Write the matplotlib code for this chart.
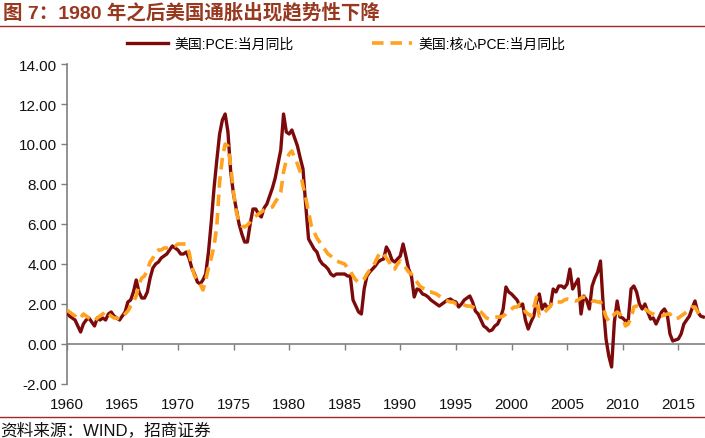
import numpy as np
import matplotlib
matplotlib.use('Agg')
import matplotlib.pyplot as plt
from matplotlib.lines import Line2D

plt.rcParams['font.family'] = ['Liberation Sans', 'Noto Sans CJK SC', 'DejaVu Sans']

title = '图 7：1980 年之后美国通胀出现趋势性下降'
source = '资料来源：WIND，招商证券'
series_names = ['美国:PCE:当月同比', '美国:核心PCE:当月同比']
start_year = 1960  # quarterly observations

pce = [
    1.6, 1.4, 1.3, 1.2,   0.9, 0.6, 1.0, 1.2,   1.3, 1.1, 0.9, 1.3,   1.2, 1.3, 1.2, 1.5,
    1.6, 1.4, 1.3, 1.2,   1.4, 1.6, 2.1, 2.2,   2.6, 3.2, 2.6, 2.3,   2.3, 2.6, 3.3, 3.8,
    4.0, 4.1, 4.3, 4.4,   4.5, 4.7, 4.9, 4.8,   4.7, 4.5, 4.5, 4.6,   4.3, 3.8, 3.5, 3.1,
    3.0, 3.2, 3.5, 4.6,   6.1, 7.8, 9.2, 10.5,  11.2, 11.5, 10.6, 8.6, 7.5, 6.75, 6.0, 5.5,
    5.1, 5.1, 6.0, 6.75,  6.75, 6.5, 6.35, 6.8, 7.0, 7.4, 7.8, 8.3,   9.0, 9.7, 11.5, 10.6,
    10.5, 10.7, 10.3, 9.9, 9.3, 8.75, 6.9, 5.25, 5.0, 4.75, 4.6, 4.2, 4.0, 3.9, 3.75, 3.5,
    3.4, 3.5, 3.5, 3.5,   3.5, 3.4, 3.4, 2.2,   1.9, 1.6, 1.5, 2.75,  3.4, 3.6, 3.75, 3.9,
    4.1, 4.2, 4.25, 4.85, 4.6, 4.2, 4.1, 4.25,  4.4, 5.0, 4.4, 3.75,  3.4, 2.35, 2.75, 2.7,
    2.5, 2.45, 2.35, 2.2, 2.1, 2.0, 1.9, 2.0,   2.1, 2.2, 2.25, 2.15, 2.1, 1.85, 2.0, 2.2,
    2.3, 2.4, 2.1, 1.65,  1.5, 1.2, 0.9, 0.8,   0.65, 0.7, 0.9, 1.0,  1.3, 1.75, 2.85, 2.6,
    2.5, 2.35, 2.2, 1.9,  2.0, 1.2, 0.75, 1.1,  1.4, 2.1, 2.5, 1.75,  2.0, 1.8, 1.9, 2.75,
    2.6, 2.9, 2.9, 2.8,   3.0, 3.75, 2.75, 3.0, 3.25, 1.5, 2.4, 2.2,  1.75, 2.9, 3.3, 3.6,
    4.15, 1.9, 0.25, -0.6, -1.15, 1.1, 2.15, 1.35, 1.3, 1.15, 1.2, 2.75, 2.9, 2.6, 2.0, 1.75,
    2.0, 1.6, 1.25, 1.3,  1.0, 1.3, 1.6, 1.75,  1.5, 0.5, 0.15, 0.2,  0.25, 0.5, 1.0, 1.2,
    1.4, 1.8, 2.15, 1.6,  1.4, 1.35,
]

core_pce = [
    1.7, 1.6, 1.5, 1.4,   1.25, 1.3, 1.5, 1.4,  1.3, 1.2, 1.15, 1.3,  1.4, 1.5, 1.65, 1.5,
    1.4, 1.3, 1.3, 1.25,  1.3, 1.5, 1.65, 1.9,  2.1, 2.4, 3.0, 3.3,   3.4, 3.7, 4.1, 4.3,
    4.6, 4.7, 4.7, 4.8,   4.8, 4.85, 4.9, 4.9,  5.0, 5.0, 5.0, 5.0,   4.6, 3.9, 3.4, 3.25,
    3.0, 2.7, 3.2, 3.8,   4.3, 4.9, 5.9, 8.1,   9.3, 10.0, 9.9, 8.9,  7.6, 6.6, 6.1, 5.9,
    5.85, 5.95, 6.1, 6.3, 6.4, 6.5, 6.6, 6.7,   6.75, 6.8, 6.85, 7.1, 7.3, 7.6, 8.6, 9.2,
    9.5, 9.65, 9.3, 9.0,  8.6, 7.9, 7.3, 6.6,   5.9, 5.6, 5.3, 5.1,   4.9, 4.7, 4.5, 4.4,
    4.25, 4.15, 4.1, 4.05, 4.0, 3.8, 3.65, 3.4, 3.2, 3.1, 3.1, 3.25,  3.5, 3.7, 3.85, 4.1,
    4.4, 4.6, 4.5, 4.3,   4.1, 3.75, 3.75, 4.0, 4.15, 4.0, 3.8, 3.6,  3.5, 3.3, 3.1, 2.9,
    2.8, 2.75, 2.6, 2.6,  2.55, 2.5, 2.4, 2.3,  2.2, 2.15, 2.1, 2.1,  2.0, 2.0, 2.0, 1.95,
    1.9, 1.9, 1.85, 1.8,  1.7, 1.6, 1.45, 1.3,  1.25, 1.3, 1.35, 1.35, 1.35, 1.4, 1.5, 1.65,
    1.75, 1.85, 1.85, 2.0, 1.9, 1.6, 1.5, 1.4,  1.8, 2.35, 1.4, 1.5,  1.6, 1.75, 1.9, 2.15,
    2.1, 2.1, 2.1, 2.2,   2.25, 2.2, 2.2, 2.15, 2.2, 2.3, 2.35, 2.3,  2.25, 2.15, 2.15, 2.1,
    2.1, 1.8, 1.35, 1.15, 1.3, 1.5, 1.6, 1.5,   1.3, 0.9, 1.0, 1.3,   1.85, 1.9, 1.85, 1.8,
    1.75, 1.65, 1.55, 1.5, 1.45, 1.4, 1.4, 1.45, 1.5, 1.5, 1.3, 1.25, 1.3, 1.4, 1.5, 1.6,
    1.7, 1.85, 1.85, 1.6, 1.4, 1.35,
]

x_ticks = [1960, 1965, 1970, 1975, 1980, 1985, 1990, 1995, 2000, 2005, 2010, 2015]
x_tick_labels = [str(v) for v in x_ticks]
y_ticks = [-2, 0, 2, 4, 6, 8, 10, 12, 14]
y_tick_labels = [f'{v:.2f}' for v in y_ticks]

W, H = 705, 439
fig = plt.figure(figsize=(W / 100, H / 100), dpi=100)
ax = fig.add_axes([66.7 / W, 1 - 385 / H, 1 - 66.7 / W, 320 / H])

t_pce = start_year + np.arange(len(pce)) / 4
t_core = start_year + np.arange(len(core_pce)) / 4

ax.plot(t_pce, pce, color='#7D0A0A', lw=2.4, label=series_names[0],
        solid_joinstyle='round', zorder=3)
ax.plot(t_core, core_pce, color='#FFA21F', lw=2.6, ls=(0, (3.2, 1.9)),
        label=series_names[1], zorder=4)

ax.set_xlim(1960, 2017.4)
ax.set_ylim(-2, 14)
for s in ['top', 'right']:
    ax.spines[s].set_visible(False)
ax.spines['bottom'].set_position(('data', 0))
ax.spines['bottom'].set_color('#7F7F7F')
ax.spines['left'].set_color('#7F7F7F')
ax.spines['bottom'].set_linewidth(1.2)
ax.spines['left'].set_linewidth(1.2)

ax.set_xticks(x_ticks)
ax.set_xticklabels(x_tick_labels)
ax.set_yticks(y_ticks)
ax.set_yticklabels(y_tick_labels)
ax.tick_params(axis='x', direction='out', length=4, width=1, color='#7F7F7F',
               pad=34, labelsize=11, labelcolor='#111111')
ax.tick_params(axis='y', direction='out', length=4, width=1, color='#7F7F7F',
               pad=3, labelsize=11, labelcolor='#111111')

leg = fig.legend(loc='center', bbox_to_anchor=(0.4915, 1 - 45 / H), ncol=2,
                 frameon=False, fontsize=10, handlelength=2.9, handletextpad=0.5,
                 columnspacing=5.6)

fig.text(0.004, 1 - 13 / H, title, fontsize=14, fontweight='bold',
         color='#97381F', va='center', ha='left')
fig.add_artist(Line2D([0, 1], [1 - 27 / H] * 2, transform=fig.transFigure,
                      color='#A3282A', lw=1.0))
fig.add_artist(Line2D([0, 1], [1 - 418 / H] * 2, transform=fig.transFigure,
                      color='#A3282A', lw=1.0))
fig.text(0.0, 1 - 430 / H, source, fontsize=12, va='center', ha='left',
         color='#111111')

fig.savefig('out.png', dpi=100)
